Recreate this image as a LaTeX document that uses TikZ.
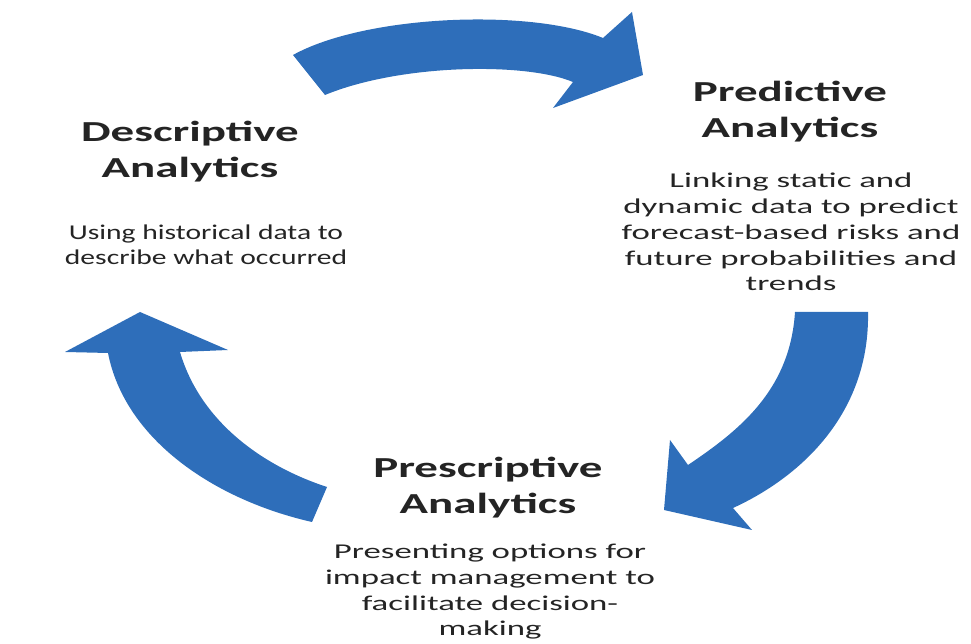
\documentclass[tikz,border=0pt]{standalone}
\usepackage{fontspec}
\setmainfont{Carlito}
\definecolor{arrowblue}{RGB}{46,110,186}
\definecolor{textgray}{RGB}{36,36,36}
\begin{document}
\begin{tikzpicture}[x=0.02cm, y=-0.02cm,
  bigarrow/.style={fill=arrowblue, draw=none},
  headline/.style={font=\fontsize{16.5}{20.5}\selectfont\bfseries, text=textgray,
    align=center, xscale=1.62, anchor=base, inner sep=0pt},
  bodytext/.style={font=\fontsize{12}{14.7}\selectfont, text=textgray,
    align=center, xscale=1.65, anchor=base, inner sep=0pt}]
  \useasboundingbox (0,0) rectangle (971,644);
  % top arrow
  \draw[bigarrow] (293,55) .. controls (365,15) and (530,8) .. (603,38) -- (632,12)
    -- (643,75) -- (553,108) -- (573,82) .. controls (525,62) and (400,64) .. (325,95) -- cycle;
  % right arrow
  \draw[bigarrow] (795,312) -- (868,312) .. controls (870,410) and (805,475) .. (733,508)
    -- (752,530) -- (664,510) -- (670,440) -- (688,465) .. controls (740,430) and (790,390) .. (795,312) -- cycle;
  % left arrow
  \draw[bigarrow] (327,487) .. controls (260,465) and (200,420) .. (180,352) -- (228,350)
    -- (140,312) -- (65,352) -- (108,353) .. controls (125,440) and (215,500) .. (312,522) -- cycle;
  % texts (anchored at the baseline of the last line)
  \node[headline] (desc-title) at (190,178) {Descriptive\\Analytics};
  \node[bodytext, xscale=0.85] (desc-text) at (206,265) {Using historical data to\\describe what occurred};
  \node[headline] (pred-title) at (790,138) {Predictive\\Analytics};
  \node[bodytext] (pred-text) at (791,291) {Linking static and\\dynamic data to predict\\forecast-based risks and\\future probabilities and\\trends};
  \node[headline] (pres-title) at (488,514) {Prescriptive\\Analytics};
  \node[bodytext] (pres-text) at (490,636) {Presenting options for\\impact management to\\facilitate decision-\\making};
\end{tikzpicture}
\end{document}
